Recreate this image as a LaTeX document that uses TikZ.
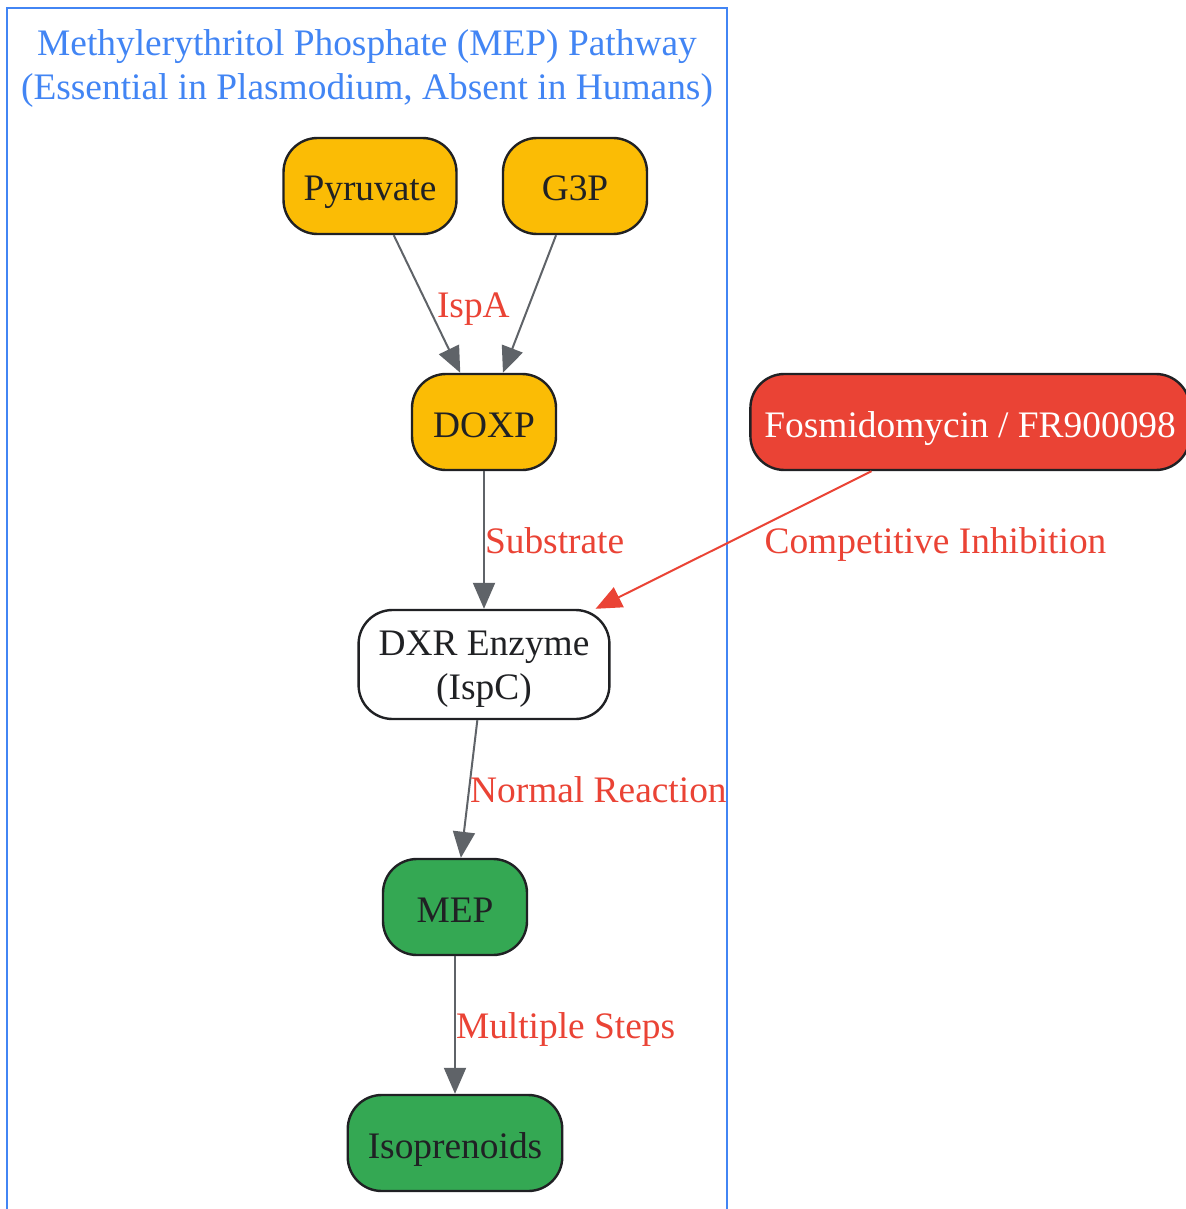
\documentclass[tikz,border=0pt]{standalone}
\usepackage{fontspec}
\setmainfont{Liberation Serif}
\usetikzlibrary{arrows.meta,positioning}
\definecolor{gblue}{HTML}{4285F4}
\definecolor{gyellow}{HTML}{FBBC05}
\definecolor{gred}{HTML}{EA4335}
\definecolor{ggreen}{HTML}{34A853}
\definecolor{edgegray}{HTML}{5F6368}
\definecolor{inkdark}{HTML}{202124}
\newcommand{\pathfont}{\fontsize{18.7}{22}\selectfont}
\tikzset{
    mol/.style={draw=inkdark, line width=1.2pt, rounded corners=17pt, minimum width=72pt, minimum height=48pt, inner xsep=10pt, text height=19pt, text depth=4pt, text=inkdark, font=\pathfont},
    flow/.style={-{Triangle[length=13pt, width=11pt]}, draw=edgegray, line width=1pt},
    inhibit/.style={flow, draw=gred},
    lbl/.style={text=gred, font=\pathfont, inner sep=0pt, text height=12.5pt, text depth=4pt, yshift=-2.5pt}
}

\begin{document}
\begin{tikzpicture}[x=0.5pt, y=-0.5pt, node distance=68.8pt]
\useasboundingbox (0,0) rectangle (1185,1209);
% cluster
\draw[gblue, line width=1pt] (7,8) rectangle (727,1215);
\node[text=gblue, font=\pathfont, align=center] (title) at (367,69) {Methylerythritol Phosphate (MEP) Pathway\\(Essential in Plasmodium, Absent in Humans)};

\node[mol, fill=gyellow] (DOXP) at (484,422) {DOXP};
\node[mol, fill=gyellow, above=of DOXP, xshift=-57pt] (PYR) {Pyruvate};
\node[mol, fill=gyellow, above=of DOXP, xshift=45.5pt] (G3P) {G3P};
\node[mol, fill=white, align=center, text height=, text depth=, minimum height=54.5pt, below=of DOXP] (DXR) {\rule{0pt}{17pt}DXR Enzyme\\(IspC)};
\node[mol, fill=ggreen, below=of DXR, xshift=-14.5pt] (MEP) {MEP};
\node[mol, fill=ggreen, below=of MEP] (ISO) {Isoprenoids};
\node[mol, fill=gred, text=white, inner xsep=7pt, right=96pt of DOXP] (FOS) {Fosmidomycin / FR900098};

\draw[flow] (PYR) -- (DOXP) node[lbl, midway, right=4.5pt] {IspA};
\draw[flow] (G3P) -- (DOXP);
\draw[flow] (DOXP) -- (DXR) node[lbl, midway, right] {Substrate};
\draw[inhibit] (FOS) -- (DXR) node[lbl, midway, right=15pt] {Competitive Inhibition};
\draw[flow] (DXR) -- (MEP) node[lbl, midway, right=0pt] {Normal Reaction};
\draw[flow] (MEP) -- (ISO) node[lbl, midway, right] {Multiple Steps};
\end{tikzpicture}
\end{document}
